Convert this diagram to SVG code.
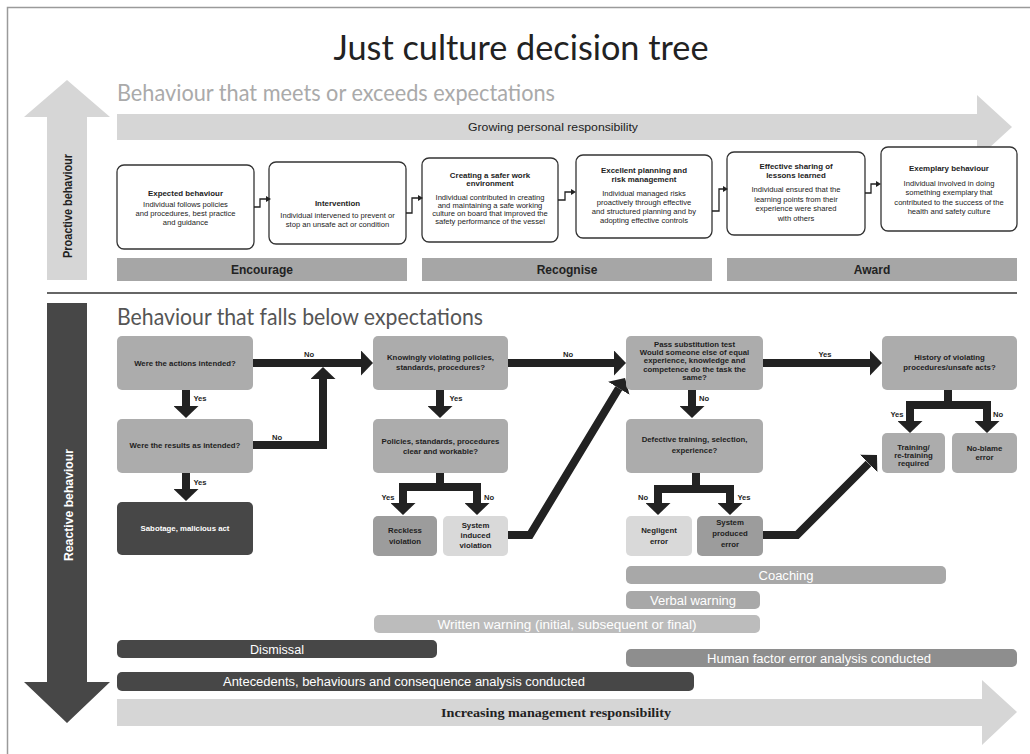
<svg xmlns="http://www.w3.org/2000/svg" width="1030" height="754" viewBox="0 0 1030 754">
<defs>
<marker id="ah" markerUnits="userSpaceOnUse" markerWidth="12" markerHeight="25" refX="0" refY="12.5" orient="auto" viewBox="0 0 12 25"><path d="M0,0 L12,12.5 L0,25 z" fill="#222"/></marker>
<marker id="sah" markerUnits="userSpaceOnUse" markerWidth="5" markerHeight="6" refX="0" refY="3" orient="auto" viewBox="0 0 5 6"><path d="M0,0 L5,3 L0,6 z" fill="#222"/></marker>
</defs>
<style>
text{font-family:"Liberation Sans",Arial,sans-serif}
.h{font-family:Lato,"Liberation Sans",sans-serif}
.pbox{fill:#fff;stroke:#333;stroke-width:1.3}
.bt{font-size:7.9px;font-weight:bold;fill:#222;text-anchor:middle}
.bb{font-size:7.6px;fill:#222;text-anchor:middle}
.dec{fill:#acacac}
.mid{fill:#9c9c9c}
.lt{fill:#d9d9d9}
.dk{fill:#474747}
.nt{font-size:7.8px;font-weight:bold;fill:#1e1e1e;text-anchor:middle}
.lb{font-size:7.6px;font-weight:bold;fill:#1e1e1e;text-anchor:middle}
.thick{fill:none;stroke:#222;stroke-width:8;stroke-linejoin:miter}
.thin{fill:none;stroke:#222;stroke-width:1.3}
.bar{font-size:12.5px;fill:#fff;text-anchor:middle}
.band{fill:#a6a6a6}
.bandt{font-size:12px;font-weight:bold;fill:#222;text-anchor:middle}
</style>
<rect x="7.5" y="7.5" width="1040" height="770" fill="#fff" stroke="#9a9a9a" stroke-width="1.5"/>

<g id="title">
<text class="h" x="521" y="60" font-size="34" fill="#222" text-anchor="middle" textLength="375" lengthAdjust="spacingAndGlyphs">Just culture decision tree</text>
<text class="h" x="117" y="101" font-size="23" fill="#aaa" textLength="438" lengthAdjust="spacingAndGlyphs">Behaviour that meets or exceeds expectations</text>
<text class="h" x="117" y="325" font-size="23" fill="#555" textLength="366" lengthAdjust="spacingAndGlyphs">Behaviour that falls below expectations</text>
</g>

<g id="axes">
<polygon points="67,80 110,117 87,117 87,280 47,280 47,117 24,117" fill="#d6d6d6"/>
<text transform="translate(72,206) rotate(-90)" font-size="12" font-weight="bold" fill="#222" text-anchor="middle" textLength="104" lengthAdjust="spacingAndGlyphs">Proactive behaviour</text>
<polygon points="47,303 87,303 87,682 110,682 67,723 24,682 47,682" fill="#474747"/>
<text transform="translate(73,505) rotate(-90)" font-size="12.5" font-weight="bold" fill="#fff" text-anchor="middle" textLength="112" lengthAdjust="spacingAndGlyphs">Reactive behaviour</text>
<line x1="47" y1="293" x2="1017" y2="293" stroke="#333" stroke-width="1.5"/>
<polygon points="117,114 977,114 977,95 1012,127 977,159 977,140 117,140" fill="#d6d6d6"/>
<text x="553" y="131" font-size="11" fill="#222" text-anchor="middle" textLength="170" lengthAdjust="spacingAndGlyphs">Growing personal responsibility</text>
<polygon points="117,699 982,699 982,680 1017,712 982,745 982,726 117,726" fill="#d6d6d6"/>
<text x="556" y="716.5" font-size="13" font-weight="bold" fill="#222" text-anchor="middle" textLength="230" lengthAdjust="spacingAndGlyphs" style="font-family:'Liberation Serif',serif">Increasing management responsibility</text>
</g>

<g id="proactive">
<g id="p1"><rect class="pbox" x="117" y="165" width="137" height="84" rx="7"/>
<text class="bt" x="185.5" y="195.5">Expected behaviour</text>
<text class="bb" x="185.5" y="206.5">Individual follows policies</text>
<text class="bb" x="185.5" y="215.5">and procedures, best practice</text>
<text class="bb" x="185.5" y="224.5">and guidance</text></g>
<g id="p2"><rect class="pbox" x="269" y="162" width="137" height="82" rx="7"/>
<text class="bt" x="337.5" y="205.5">Intervention</text>
<text class="bb" x="337.5" y="218">Individual intervened to prevent or</text>
<text class="bb" x="337.5" y="227">stop an unsafe act or condition</text></g>
<g id="p3"><rect class="pbox" x="422" y="158" width="136" height="84" rx="7"/>
<text class="bt" x="490" y="177.5">Creating a safer work</text>
<text class="bt" x="490" y="186">environment</text>
<text class="bb" x="490" y="199.5">Individual contributed in creating</text>
<text class="bb" x="490" y="207.5">and maintaining a safe working</text>
<text class="bb" x="490" y="215.5">culture on board that improved the</text>
<text class="bb" x="490" y="223.5">safety performance of the vessel</text></g>
<g id="p4"><rect class="pbox" x="576" y="155" width="136" height="83" rx="7"/>
<text class="bt" x="644" y="172.5">Excellent planning and</text>
<text class="bt" x="644" y="181.5">risk management</text>
<text class="bb" x="644" y="195.5">Individual managed risks</text>
<text class="bb" x="644" y="205">proactively through effective</text>
<text class="bb" x="644" y="214">and structured planning and by</text>
<text class="bb" x="644" y="222.5">adopting effective controls</text></g>
<g id="p5"><rect class="pbox" x="727" y="152" width="138" height="83" rx="7"/>
<text class="bt" x="796" y="168.5">Effective sharing of</text>
<text class="bt" x="796" y="177.5">lessons learned</text>
<text class="bb" x="796" y="192">Individual ensured that the</text>
<text class="bb" x="796" y="201.5">learning points from their</text>
<text class="bb" x="796" y="211">experience were shared</text>
<text class="bb" x="796" y="220.5">with others</text></g>
<g id="p6"><rect class="pbox" x="881" y="147" width="136" height="84" rx="7"/>
<text class="bt" x="949" y="170.5">Exemplary behaviour</text>
<text class="bb" x="949" y="185.5">Individual involved in doing</text>
<text class="bb" x="949" y="195">something exemplary that</text>
<text class="bb" x="949" y="204.5">contributed to the success of the</text>
<text class="bb" x="949" y="214">health and safety culture</text></g>
</g>

<g id="bands">
<rect class="band" x="117" y="258" width="290" height="23"/>
<text class="bandt" x="262" y="273.5">Encourage</text>
<rect class="band" x="422" y="258" width="290" height="23"/>
<text class="bandt" x="567" y="273.5">Recognise</text>
<rect class="band" x="727" y="258" width="290" height="23"/>
<text class="bandt" x="872" y="273.5">Award</text>
</g>

<g id="connectors">
<path class="thin" d="M254,207 H260 V199 H266" marker-end="url(#sah)"/>
<path class="thin" d="M406,213 H412 V198 H418" marker-end="url(#sah)"/>
<path class="thin" d="M558,200 H565 V192 H571" marker-end="url(#sah)"/>
<path class="thin" d="M712,211 H719 V189 H723" marker-end="url(#sah)"/>
<path class="thin" d="M865,193 H871 V184 H876" marker-end="url(#sah)"/>

<path class="thick" d="M186,390 V406" marker-end="url(#ah)"/>
<path class="thick" d="M186,473 V489" marker-end="url(#ah)"/>
<path class="thick" d="M253,363 H361" marker-end="url(#ah)"/>
<path class="thick" d="M253,445 H323 V379" marker-end="url(#ah)"/>
<path class="thick" d="M440,390 V406" marker-end="url(#ah)"/>
<path class="thick" d="M440,473 V487 H403 V503" marker-end="url(#ah)"/>
<path class="thick" d="M440,487 H477 V503" marker-end="url(#ah)"/>
<path class="thick" d="M508,363 H614" marker-end="url(#ah)"/>
<path class="thick" d="M508,535 H530 L618.8,388.3" marker-end="url(#ah)"/>
<path class="thick" d="M692,390 V406" marker-end="url(#ah)"/>
<path class="thick" d="M696,473 V489 H658 V503" marker-end="url(#ah)"/>
<path class="thick" d="M696,489 H730 V503" marker-end="url(#ah)"/>
<path class="thick" d="M763,363 H870" marker-end="url(#ah)"/>
<path class="thick" d="M763,535 H797 L868.5,463.5" marker-end="url(#ah)"/>
<path class="thick" d="M948,390 V405 H910 V421" marker-end="url(#ah)"/>
<path class="thick" d="M948,405 H987 V421" marker-end="url(#ah)"/>

<text class="lb" x="200" y="401">Yes</text>
<text class="lb" x="200" y="485">Yes</text>
<text class="lb" x="309" y="357">No</text>
<text class="lb" x="277" y="440">No</text>
<text class="lb" x="456" y="401">Yes</text>
<text class="lb" x="388" y="500">Yes</text>
<text class="lb" x="489" y="500">No</text>
<text class="lb" x="568" y="357">No</text>
<text class="lb" x="704" y="401">No</text>
<text class="lb" x="643" y="500">No</text>
<text class="lb" x="744" y="500">Yes</text>
<text class="lb" x="825" y="357">Yes</text>
<text class="lb" x="897" y="417">Yes</text>
<text class="lb" x="998" y="417">No</text>
</g>

<g id="n1"><rect class="dec" x="117" y="336" width="136" height="54" rx="5"/><text class="nt" x="185" y="365.5">Were the actions intended?</text></g>
<g id="n2"><rect class="dec" x="117" y="419" width="136" height="54" rx="5"/><text class="nt" x="185" y="448">Were the results as intended?</text></g>
<g id="n3"><rect class="dk" x="117" y="502" width="136" height="53" rx="5"/><text class="nt" x="185" y="530.5" style="fill:#fff">Sabotage, malicious act</text></g>
<g id="n4"><rect class="dec" x="373" y="336" width="135" height="54" rx="5"/><text class="nt" x="440.5" y="359.5">Knowingly violating policies,</text><text class="nt" x="440.5" y="369.5">standards, procedures?</text></g>
<g id="n5"><rect class="dec" x="373" y="419" width="135" height="54" rx="5"/><text class="nt" x="440.5" y="443.5">Policies, standards, procedures</text><text class="nt" x="440.5" y="453.5">clear and workable?</text></g>
<g id="n6"><rect class="mid" x="373" y="516" width="64" height="40" rx="5"/><text class="nt" x="405" y="532.5">Reckless</text><text class="nt" x="405" y="543.5">violation</text></g>
<g id="n7"><rect class="lt" x="443" y="516" width="65" height="40" rx="5"/><text class="nt" x="475.5" y="527.5">System</text><text class="nt" x="475.5" y="537.5">induced</text><text class="nt" x="475.5" y="547.5">violation</text></g>
<g id="n8"><rect class="dec" x="626" y="336" width="137" height="54" rx="5"/>
<text class="nt" x="694.5" y="346.5">Pass substitution test</text>
<text class="nt" x="694.5" y="354.5">Would someone else of equal</text>
<text class="nt" x="694.5" y="363">experience, knowledge and</text>
<text class="nt" x="694.5" y="371.5">competence do the task the</text>
<text class="nt" x="694.5" y="379.5">same?</text></g>
<g id="n9"><rect class="dec" x="626" y="419" width="137" height="54" rx="5"/><text class="nt" x="694.5" y="441.5">Defective training, selection,</text><text class="nt" x="694.5" y="452.5">experience?</text></g>
<g id="n10"><rect class="lt" x="626" y="516" width="66" height="40" rx="5"/><text class="nt" x="659" y="532.5">Negligent</text><text class="nt" x="659" y="544">error</text></g>
<g id="n11"><rect class="mid" x="697" y="516" width="66" height="40" rx="5"/><text class="nt" x="730" y="524.5">System</text><text class="nt" x="730" y="535.5">produced</text><text class="nt" x="730" y="547">error</text></g>
<g id="n12"><rect class="dec" x="882" y="336" width="135" height="54" rx="5"/><text class="nt" x="949.5" y="359.5">History of violating</text><text class="nt" x="949.5" y="369.5">procedures/unsafe acts?</text></g>
<g id="n13"><rect class="dec" x="882" y="433" width="63" height="40" rx="5"/><text class="nt" x="913.5" y="450">Training/</text><text class="nt" x="913.5" y="458">re-training</text><text class="nt" x="913.5" y="466">required</text></g>
<g id="n14"><rect class="dec" x="952" y="433" width="65" height="40" rx="5"/><text class="nt" x="984.5" y="450.5">No-blame</text><text class="nt" x="984.5" y="459.5">error</text></g>

<g id="outcomes">
<rect x="626" y="566" width="320" height="18" rx="5" fill="#a8a8a8"/>
<text class="bar" x="786" y="579.5" textLength="55" lengthAdjust="spacingAndGlyphs">Coaching</text>
<rect x="626" y="591" width="134" height="18" rx="5" fill="#a8a8a8"/>
<text class="bar" x="693" y="604.5" textLength="86" lengthAdjust="spacingAndGlyphs">Verbal warning</text>
<rect x="374" y="615" width="386" height="18" rx="5" fill="#bcbcbc"/>
<text class="bar" x="567" y="628.5" textLength="259" lengthAdjust="spacingAndGlyphs">Written warning (initial, subsequent or final)</text>
<rect x="117" y="640" width="320" height="18" rx="5" fill="#474747"/>
<text class="bar" x="277" y="653.5" textLength="54" lengthAdjust="spacingAndGlyphs">Dismissal</text>
<rect x="626" y="649" width="391" height="18" rx="5" fill="#8e8e8e"/>
<text class="bar" x="819" y="662.5" textLength="224" lengthAdjust="spacingAndGlyphs">Human factor error analysis conducted</text>
<rect x="117" y="672" width="577" height="19" rx="5" fill="#474747"/>
<text class="bar" x="404" y="686" textLength="362" lengthAdjust="spacingAndGlyphs">Antecedents, behaviours and consequence analysis conducted</text>
</g>
</svg>
